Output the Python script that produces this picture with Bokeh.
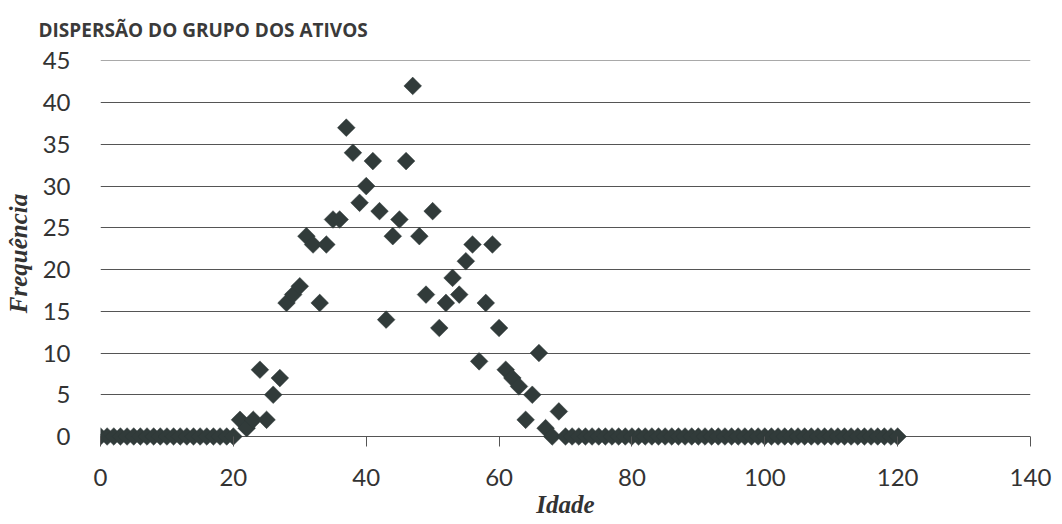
import math
from bokeh.plotting import figure
from bokeh.models import Range1d, FixedTicker, ColumnDataSource
from bokeh.embed import file_html
from bokeh.resources import INLINE

# ---- data ----
title_text = "DISPERSÃO DO GRUPO DOS ATIVOS"
x_title = "Idade"
y_title = "Frequência"

idade = list(range(0, 121))
frequencia = [
    0, 0, 0, 0, 0, 0, 0, 0, 0, 0,        # 0-9
    0, 0, 0, 0, 0, 0, 0, 0, 0, 0,        # 10-19
    0, 2, 1, 2, 8, 2, 5, 7, 16, 17,      # 20-29
    18, 24, 23, 16, 23, 26, 26, 37, 34, 28,  # 30-39
    30, 33, 27, 14, 24, 26, 33, 42, 24, 17,  # 40-49
    27, 13, 16, 19, 17, 21, 23, 9, 16, 23,   # 50-59
    13, 8, 7, 6, 2, 5, 10, 1, 0, 3,          # 60-69
    0, 0, 0, 0, 0, 0, 0, 0, 0, 0,            # 70-79
    0, 0, 0, 0, 0, 0, 0, 0, 0, 0,            # 80-89
    0, 0, 0, 0, 0, 0, 0, 0, 0, 0,            # 90-99
    0, 0, 0, 0, 0, 0, 0, 0, 0, 0,            # 100-109
    0, 0, 0, 0, 0, 0, 0, 0, 0, 0,            # 110-119
    0,                                       # 120
]
x_ticks = [0, 20, 40, 60, 80, 100, 120, 140]
y_ticks = [0, 5, 10, 15, 20, 25, 30, 35, 40, 45]

src = ColumnDataSource(dict(idade=idade, freq=frequencia))

W, H = 1060, 520
p = figure(width=W, height=H, output_backend="svg", toolbar_location=None,
           x_range=Range1d(0, 140), y_range=Range1d(-1.2, 45.05),
           min_border_left=100, min_border_right=W - 1030,
           min_border_top=60, min_border_bottom=H - 446)
p.outline_line_color = None
p.background_fill_color = "white"
p.border_fill_color = "white"

p.scatter("idade", "freq", source=src, marker="square", size=12.5,
          angle=math.pi / 4, fill_color="#313b3a", line_color="#313b3a",
          line_width=0.5)

# title
p.title.text = title_text
p.title.align = "left"
p.title.offset = -62
p.title.standoff = 32
p.title.vertical_align = "top"
p.title.text_font = "Open Sans"
p.title.text_font_style = "bold"
p.title.text_font_size = "19px"
p.title.text_color = "#3a3a3a"

# grid
p.xgrid.grid_line_color = None
p.ygrid.ticker = FixedTicker(ticks=y_ticks)
p.ygrid.grid_line_color = "#555555"
p.ygrid.grid_line_width = 1.2

# x axis
xa = p.xaxis[0]
xa.ticker = FixedTicker(ticks=x_ticks)
xa.axis_line_color = None
xa.major_tick_in = 10
xa.major_tick_out = 0
xa.major_tick_line_color = "#555555"
xa.minor_tick_line_color = None
xa.major_label_text_font = "Lato"
xa.major_label_text_font_size = "24px"
xa.major_label_text_color = "#333333"
xa.major_label_standoff = 22
xa.axis_label = x_title
xa.axis_label_text_font = "Liberation Serif"
xa.axis_label_text_font_style = "bold italic"
xa.axis_label_text_font_size = "25px"
xa.axis_label_text_color = "#333333"
xa.axis_label_standoff = 2

# y axis
ya = p.yaxis[0]
ya.ticker = FixedTicker(ticks=y_ticks)
ya.axis_line_color = None
ya.major_tick_in = 0
ya.major_tick_out = 0
ya.minor_tick_line_color = None
ya.major_label_text_font = "Lato"
ya.major_label_text_font_size = "24px"
ya.major_label_text_color = "#333333"
ya.major_label_standoff = 30
ya.axis_label = y_title
ya.axis_label_text_font = "Liberation Serif"
ya.axis_label_text_font_style = "bold italic"
ya.axis_label_text_font_size = "25px"
ya.axis_label_text_color = "#333333"
ya.axis_label_standoff = 8

open("out.html", "w").write(file_html(p, INLINE))
